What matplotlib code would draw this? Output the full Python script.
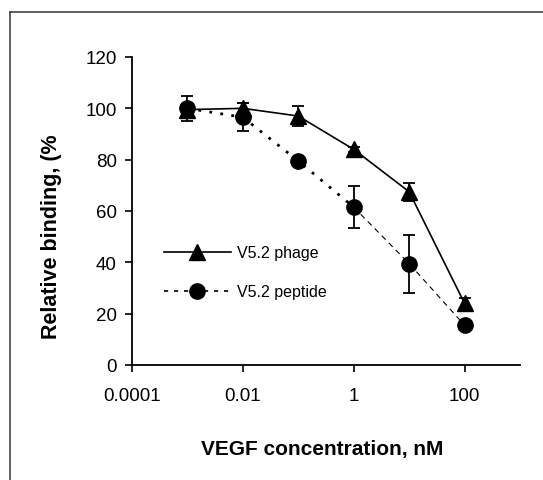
import matplotlib.pyplot as plt
from matplotlib.lines import Line2D
import numpy as np

plt.rcParams['font.family'] = ['Liberation Sans', 'DejaVu Sans']

# 数据
conc = [0.001, 0.01, 0.1, 1, 10, 100]
phage = [99.5, 100, 97, 84, 67.5, 24]
phage_err = [0, 2, 4, 1, 3.5, 2]
peptide = [100, 96.5, 79.5, 61.5, 39.5, 15.5]
peptide_err = [5, 5.5, 1, 8.2, 11.3, 1]
xticks = [0.0001, 0.01, 1, 100]
xtick_labels = ['0.0001', '0.01', '1', '100']
yticks = [0, 20, 40, 60, 80, 100, 120]

fig = plt.figure(figsize=(5.43, 4.81), dpi=100)
ax = fig.add_axes([132 / 543, 1 - 366 / 481, 388 / 543, 308 / 481])

# 外框
fig.add_artist(Line2D([10 / 543, 10 / 543], [0, 1 - 13 / 481], transform=fig.transFigure,
                      color='#444444', lw=1.2))
fig.add_artist(Line2D([10 / 543, 1], [1 - 13 / 481, 1 - 13 / 481], transform=fig.transFigure,
                      color='#444444', lw=1.2))

# 误差棒
ax.errorbar(conc, phage, yerr=phage_err, fmt='none', ecolor='black', elinewidth=1.3,
            capsize=4.5, capthick=1.3, zorder=2)
ax.errorbar(conc, peptide, yerr=peptide_err, fmt='none', ecolor='black', elinewidth=1.3,
            capsize=4.5, capthick=1.3, zorder=2)

# 折线
ax.plot(conc, phage, color='black', lw=1.2, zorder=3)
ax.plot(conc, phage, 'k^', ms=11, zorder=4)
ax.plot(conc[:4], peptide[:4], color='black', lw=2, linestyle=(0, (1, 3)), zorder=3)
ax.plot(conc[3:], peptide[3:], color='black', lw=0.8, linestyle=(0, (5, 4)), zorder=3)
ax.plot(conc, peptide, 'ko', ms=11, zorder=4)

# 图例
h1 = Line2D([], [], color='black', lw=1.2, marker='^', ms=11)
h2 = Line2D([], [], color='black', lw=1.2, linestyle=(0, (2.5, 3.5)), marker='o', ms=11)
ax.legend([h1, h2], ['V5.2 phage', 'V5.2 peptide'], loc='upper left',
          bbox_to_anchor=(0.045, 0.435), frameon=False, fontsize=11.5,
          handlelength=4.2, handletextpad=0.4, labelspacing=1.5)

ax.set_xscale('log')
ax.set_xlim(1e-4, 1000)
ax.set_ylim(0, 120)
ax.set_xticks(xticks)
ax.set_xticklabels(xtick_labels)
ax.minorticks_off()
ax.set_yticks(yticks)

for s in ['top', 'right']:
    ax.spines[s].set_visible(False)
for s in ['left', 'bottom']:
    ax.spines[s].set_linewidth(1.3)
ax.tick_params(axis='both', direction='out', length=5, width=1.2, labelsize=13.5)
ax.tick_params(axis='x', pad=10.5)
ax.tick_params(axis='y', pad=6)

ax.set_xlabel('VEGF concentration, nM', fontsize=15, fontweight='bold')
ax.xaxis.set_label_coords(0.49, -0.24)
ax.set_ylabel('Relative binding, (%', fontsize=15.5, fontweight='bold')
ax.yaxis.set_label_coords(-0.18, 0.42)

fig.savefig('out.png', dpi=100)
